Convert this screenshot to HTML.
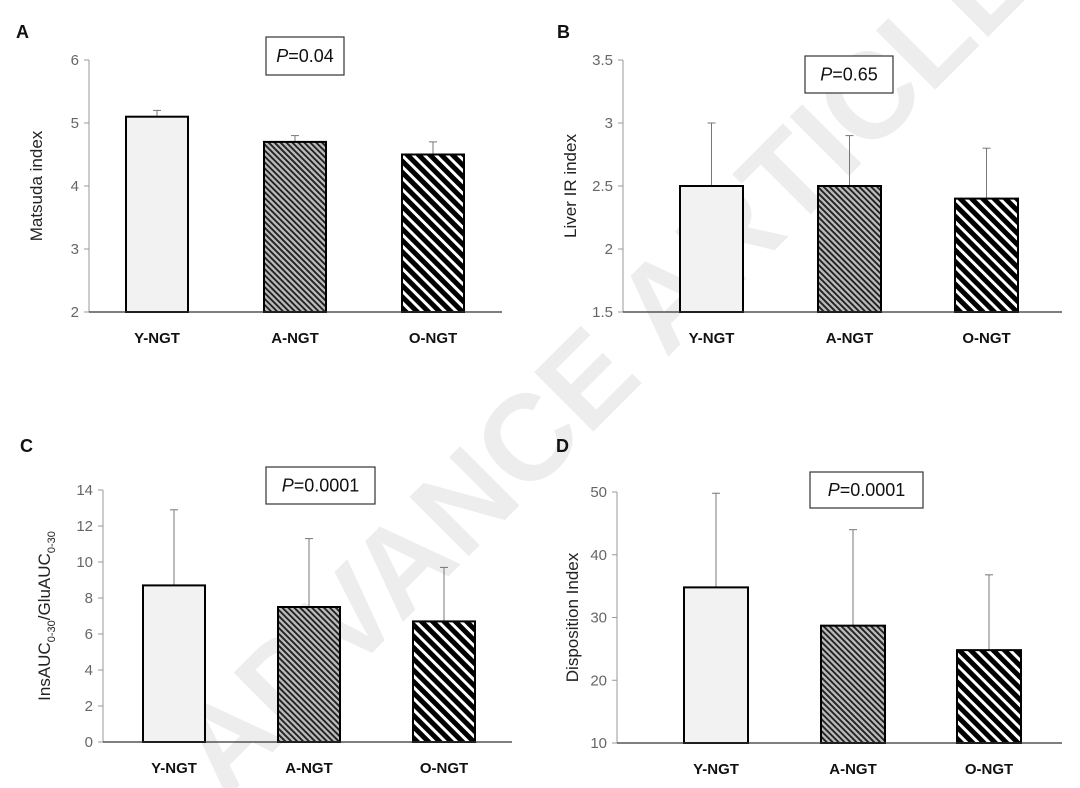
<!DOCTYPE html>
<html><head><meta charset="utf-8"><style>
html,body{margin:0;padding:0;background:#fff;}
svg{display:block;font-family:"Liberation Sans",Arial,sans-serif;}
</style></head><body>
<svg id="fig" width="1080" height="788" viewBox="0 0 1080 788" xmlns="http://www.w3.org/2000/svg">
<defs>
<pattern id="pA" patternUnits="userSpaceOnUse" width="4.2" height="4.2" patternTransform="rotate(-45)">
<rect width="4.2" height="4.2" fill="#bbb"/><rect width="1.9" height="4.2" fill="#222"/></pattern>
<pattern id="pO" patternUnits="userSpaceOnUse" width="8" height="8" patternTransform="rotate(-45)">
<rect width="8" height="8" fill="#fff"/><rect width="5" height="8" fill="#000"/></pattern>
</defs>
<text x="0" y="0" font-size="122" font-weight="bold" fill="#000" fill-opacity="0.07" transform="translate(225,800) rotate(-45)">ADVANCE ARTICLE</text>
</svg>
<script>
const categories = ["Y-NGT","A-NGT","O-NGT"];
const matsudaValues = [5.1,4.7,4.5];
const matsudaErrTop = [5.2,4.8,4.7];
const matsudaTicks = ["2","3","4","5","6"];
const liverValues = [2.5,2.5,2.4];
const liverErrTop = [3.0,2.9,2.8];
const liverTicks = ["1.5","2","2.5","3","3.5"];
const insValues = [8.7,7.5,6.7];
const insErrTop = [12.9,11.3,9.7];
const insTicks = ["0","2","4","6","8","10","12","14"];
const dispValues = [34.8,28.7,24.8];
const dispErrTop = [49.8,44,36.8];
const dispTicks = ["10","20","30","40","50"];

const NS="http://www.w3.org/2000/svg";
const svg=document.getElementById('fig');
function mk(tag,attrs,parent){const e=document.createElementNS(NS,tag);for(const k in attrs)e.setAttribute(k,attrs[k]);(parent||svg).appendChild(e);return e;}
const fills=["#f2f2f2","url(#pA)","url(#pO)"];

function panel(p){
  const g=mk('g',{});
  
  
  const tmin=parseFloat(p.ticks[0]), tmax=parseFloat(p.ticks[p.ticks.length-1]);
  const y=v=>p.y0-(v-tmin)/(tmax-tmin)*(p.y0-p.y1);
  const lt=mk('text',{x:p.lx,y:p.ly,'font-size':18,'font-weight':'bold',fill:'#111'},g);lt.textContent=p.id;
  
  const ya=mk('line',{x1:p.ax,y1:p.y1,x2:p.ax,y2:p.y0,stroke:'#999','stroke-width':1},g);
  
  p.ticks.forEach(t=>{const v=parseFloat(t);const yy=y(v);
    mk('line',{x1:p.ax-5,y1:yy,x2:p.ax,y2:yy,stroke:'#999'},g);
    const tx=mk('text',{x:p.ax-10,y:yy+5,'font-size':15,fill:'#666','text-anchor':'end'},g);tx.textContent=t;
    });
  const yt=mk('text',{x:0,y:0,'font-size':17,fill:'#222','text-anchor':'middle',transform:`translate(${p.tx},${(p.y0+p.y1)/2}) rotate(-90)`},g);
  yt.innerHTML=p.title;
  
  categories.forEach((c,i)=>{
    const bx=p.bx[i], w=p.bw;
    const top=y(p.err[i]), vy=y(p.vals[i]);
    const el=mk('line',{x1:bx+w/2,y1:top,x2:bx+w/2,y2:vy,stroke:'#777','stroke-width':1},g);
    
    mk('line',{x1:bx+w/2-4,y1:top,x2:bx+w/2+4,y2:top,stroke:'#777'},g);
    const r=mk('rect',{x:bx,y:vy,width:w,height:p.y0-vy,fill:fills[i],stroke:'#000','stroke-width':2},g);
    
    const cl=mk('text',{x:bx+w/2,y:p.y0+31,'font-size':15,'font-weight':'bold','text-anchor':'middle',fill:'#111'},g);cl.textContent=c;
    
  });
  const xa=mk('line',{x1:p.ax,y1:p.y0,x2:p.xe,y2:p.y0,stroke:'#333','stroke-width':1.2},g);
  
  const b=mk('rect',{x:p.pb[0],y:p.pb[1],width:p.pb[2],height:p.pb[3],fill:'#fff',stroke:'#333','stroke-width':1.2},g);
  
  const pt=mk('text',{x:p.pb[0]+p.pb[2]/2,y:p.pb[1]+p.pb[3]/2+6,'font-size':18,'text-anchor':'middle',fill:'#111'},g);
  pt.innerHTML='<tspan font-style="italic">P</tspan>='+p.pv;
  
}
panel({id:'A',lx:16,ly:38,ax:89,y0:312,y1:60,xe:502,ticks:matsudaTicks,vals:matsudaValues,err:matsudaErrTop,bx:[126,264,402],bw:62,title:'Matsuda index',tx:42,pb:[266,37,78,38],pv:'0.04'});
panel({id:'B',lx:557,ly:38,ax:623,y0:312,y1:60,xe:1062,ticks:liverTicks,vals:liverValues,err:liverErrTop,bx:[680,818,955],bw:63,title:'Liver IR index',tx:576,pb:[805,56,88,37],pv:'0.65'});
panel({id:'C',lx:20,ly:452,ax:103,y0:742,y1:490,xe:512,ticks:insTicks,vals:insValues,err:insErrTop,bx:[143,278,413],bw:62,title:'InsAUC<tspan font-size="11" dy="5">0-30</tspan><tspan dy="-5">/GluAUC</tspan><tspan font-size="11" dy="5">0-30</tspan>',tx:50,pb:[266,467,109,37],pv:'0.0001'});
panel({id:'D',lx:556,ly:452,ax:617,y0:743,y1:492,xe:1062,ticks:dispTicks,vals:dispValues,err:dispErrTop,bx:[684,821,957],bw:64,title:'Disposition Index',tx:578,pb:[810,472,113,36],pv:'0.0001'});
</script>
</body></html>
